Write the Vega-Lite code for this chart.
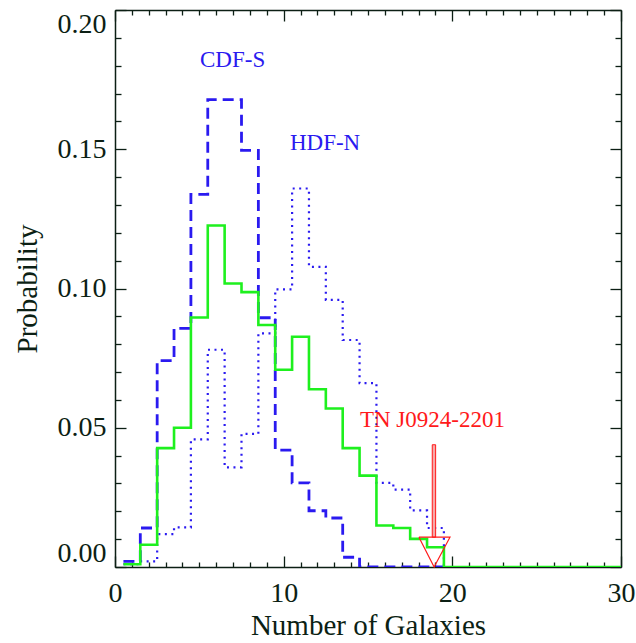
{
  "$schema": "https://vega.github.io/schema/vega-lite/v6.json",
  "width": 506,
  "height": 557,
  "autosize": {"type": "none"},
  "padding": {"left": 115, "top": 10, "right": 15, "bottom": 76},
  "background": "white",
  "config": {
    "view": {"stroke": null},
    "font": "Liberation Serif",
    "axis": {
      "domainColor": "#0c1f14",
      "tickColor": "#0c1f14",
      "labelColor": "#0c1f14",
      "titleColor": "#0c1f14",
      "grid": false,
      "labelFont": "Liberation Serif",
      "titleFont": "Liberation Serif",
      "labelFontSize": 28,
      "titleFontSize": 29,
      "titleFontWeight": "normal",
      "domainWidth": 1.5,
      "tickWidth": 1.3,
      "labelOverlap": false,
      "tickCount": 100
    }
  },
  "datasets": {
    "hist": [
      {"s": "HDF-N", "x": 0.5, "p": 0.001},
      {"s": "HDF-N", "x": 1.5, "p": 0.002},
      {"s": "HDF-N", "x": 2.5, "p": 0.0118},
      {"s": "HDF-N", "x": 3.5, "p": 0.0142},
      {"s": "HDF-N", "x": 4.5, "p": 0.0458},
      {"s": "HDF-N", "x": 5.5, "p": 0.078},
      {"s": "HDF-N", "x": 6.5, "p": 0.0358},
      {"s": "HDF-N", "x": 7.5, "p": 0.0478},
      {"s": "HDF-N", "x": 8.5, "p": 0.0839},
      {"s": "HDF-N", "x": 9.5, "p": 0.0997},
      {"s": "HDF-N", "x": 10.5, "p": 0.1359},
      {"s": "HDF-N", "x": 11.5, "p": 0.1078},
      {"s": "HDF-N", "x": 12.5, "p": 0.0959},
      {"s": "HDF-N", "x": 13.5, "p": 0.0815},
      {"s": "HDF-N", "x": 14.5, "p": 0.066},
      {"s": "HDF-N", "x": 15.5, "p": 0.0302},
      {"s": "HDF-N", "x": 16.5, "p": 0.0278},
      {"s": "HDF-N", "x": 17.5, "p": 0.0203},
      {"s": "HDF-N", "x": 18.5, "p": 0.014},
      {"s": "HDF-N", "x": 19.5, "p": 0},
      {"s": "HDF-N", "x": 20, "p": 0},
      {"s": "CDF-S", "x": 0.5, "p": 0.002},
      {"s": "CDF-S", "x": 1.5, "p": 0.014},
      {"s": "CDF-S", "x": 2.5, "p": 0.0741},
      {"s": "CDF-S", "x": 3.5, "p": 0.0857},
      {"s": "CDF-S", "x": 4.5, "p": 0.1338},
      {"s": "CDF-S", "x": 5.5, "p": 0.1678},
      {"s": "CDF-S", "x": 6.5, "p": 0.1678},
      {"s": "CDF-S", "x": 7.5, "p": 0.1496},
      {"s": "CDF-S", "x": 8.5, "p": 0.0895},
      {"s": "CDF-S", "x": 9.5, "p": 0.042},
      {"s": "CDF-S", "x": 10.5, "p": 0.0302},
      {"s": "CDF-S", "x": 11.5, "p": 0.0202},
      {"s": "CDF-S", "x": 12.5, "p": 0.0176},
      {"s": "CDF-S", "x": 13.5, "p": 0.0035},
      {"s": "CDF-S", "x": 14.5, "p": 0},
      {"s": "CDF-S", "x": 19.5, "p": 0},
      {"s": "TN", "x": 0.5, "p": 0.001},
      {"s": "TN", "x": 1.5, "p": 0.008},
      {"s": "TN", "x": 2.5, "p": 0.0427},
      {"s": "TN", "x": 3.5, "p": 0.05},
      {"s": "TN", "x": 4.5, "p": 0.0896},
      {"s": "TN", "x": 5.5, "p": 0.1226},
      {"s": "TN", "x": 6.5, "p": 0.1018},
      {"s": "TN", "x": 7.5, "p": 0.0987},
      {"s": "TN", "x": 8.5, "p": 0.0869},
      {"s": "TN", "x": 9.5, "p": 0.0708},
      {"s": "TN", "x": 10.5, "p": 0.0827},
      {"s": "TN", "x": 11.5, "p": 0.0638},
      {"s": "TN", "x": 12.5, "p": 0.0569},
      {"s": "TN", "x": 13.5, "p": 0.0427},
      {"s": "TN", "x": 14.5, "p": 0.0328},
      {"s": "TN", "x": 15.5, "p": 0.0149},
      {"s": "TN", "x": 16.5, "p": 0.014},
      {"s": "TN", "x": 17.5, "p": 0.0101},
      {"s": "TN", "x": 18.5, "p": 0.0071},
      {"s": "TN", "x": 19.5, "p": 0},
      {"s": "TN", "x": 30, "p": 0}
    ],
    "shaft": [{"x": 18.81, "x2": 19.01, "p": 0.0107, "p2": 0.0439}],
    "head": [
      {"o": 1, "x": 18.02, "p": 0.0107},
      {"o": 2, "x": 18.92, "p": 0},
      {"o": 3, "x": 19.86, "p": 0.0107},
      {"o": 4, "x": 18.02, "p": 0.0107}
    ],
    "labels": [
      {"t": "CDF-S", "g": "field", "x": 5.04, "p": 0.1797},
      {"t": "HDF-N", "g": "field", "x": 10.37, "p": 0.1496},
      {"t": "TN J0924-2201", "g": "target", "x": 14.52, "p": 0.0501}
    ]
  },
  "layer": [
    {
      "layer": [
        {
          "data": {"name": "hist"},
          "transform": [{"filter": "datum.s === 'HDF-N'"}],
          "mark": {"type": "line", "interpolate": "step-after", "color": "#2a1af0", "strokeWidth": 2.2, "strokeDash": [2, 4.5], "clip": true},
          "encoding": {
            "x": {
              "field": "x", "type": "quantitative",
              "scale": {"domain": [0, 30], "nice": false, "zero": false},
              "axis": {
                "orient": "bottom",
                "title": "Number of Galaxies",
                "values": [0,1,2,3,4,5,6,7,8,9,10,11,12,13,14,15,16,17,18,19,20,21,22,23,24,25,26,27,28,29,30],
                "tickCount": 100,
                "labelExpr": "datum.value % 10 === 0 ? format(datum.value, 'd') : ''",
                "tickSize": {"condition": {"test": "datum.value % 10 === 0", "value": -11}, "value": -5},
                "labelPadding": 23,
                "titlePadding": -2,
                "labelFlush": false,
                "labelOverlap": false,
                "labelBound": false
              }
            },
            "y": {
              "field": "p", "type": "quantitative",
              "scale": {"domain": [0, 0.2], "nice": false},
              "axis": {
                "orient": "left",
                "title": "Probability",
                "values": [0,0.01,0.02,0.03,0.04,0.05,0.06,0.07,0.08,0.09,0.1,0.11,0.12,0.13,0.14,0.15,0.16,0.17,0.18,0.19,0.2],
                "tickCount": 100,
                "labelExpr": "abs(datum.value*20 - round(datum.value*20)) < 1e-6 ? format(datum.value, '.2f') : ''",
                "tickSize": {"condition": {"test": "abs(datum.value*20 - round(datum.value*20)) < 1e-6", "value": -11}, "value": -6},
                "labelPadding": 20,
                "titlePadding": 15,
                "labelFlush": true,
                "labelOverlap": false,
                "labelBound": false
              }
            }
          }
        },
        {
          "data": {"name": "hist"},
          "transform": [{"filter": "datum.s === 'CDF-S'"}],
          "mark": {"type": "line", "interpolate": "step-after", "color": "#2a1af0", "strokeWidth": 2.8, "strokeDash": [11, 6], "clip": true},
          "encoding": {
            "x": {"field": "x", "type": "quantitative"},
            "y": {"field": "p", "type": "quantitative"}
          }
        },
        {
          "data": {"name": "hist"},
          "transform": [{"filter": "datum.s === 'TN'"}],
          "mark": {"type": "line", "interpolate": "step-after", "color": "#1ef01e", "strokeWidth": 2.6, "clip": true},
          "encoding": {
            "x": {"field": "x", "type": "quantitative"},
            "y": {"field": "p", "type": "quantitative"}
          }
        },
        {
          "data": {"name": "shaft"},
          "mark": {"type": "rect", "fill": "#f6a8a8", "stroke": "#ff1a1a", "strokeWidth": 1},
          "encoding": {
            "x": {"field": "x", "type": "quantitative"},
            "x2": {"field": "x2"},
            "y": {"field": "p", "type": "quantitative"},
            "y2": {"field": "p2"}
          }
        },
        {
          "data": {"name": "head"},
          "mark": {"type": "line", "color": "#ff1a1a", "strokeWidth": 1.2},
          "encoding": {
            "x": {"field": "x", "type": "quantitative"},
            "y": {"field": "p", "type": "quantitative"},
            "order": {"field": "o", "type": "quantitative"}
          }
        }
      ]
    },
    {
      "data": {"name": "labels"},
      "mark": {"type": "text", "align": "left", "baseline": "alphabetic", "font": "Liberation Serif", "fontSize": 23},
      "encoding": {
        "x": {
          "field": "x", "type": "quantitative",
          "axis": {
            "orient": "top", "title": null, "labels": false,
            "values": [0,1,2,3,4,5,6,7,8,9,10,11,12,13,14,15,16,17,18,19,20,21,22,23,24,25,26,27,28,29,30],
            "tickCount": 100,
            "tickSize": {"condition": {"test": "datum.value % 10 === 0", "value": -11}, "value": -5}
          }
        },
        "y": {
          "field": "p", "type": "quantitative",
          "axis": {
            "orient": "right", "title": null, "labels": false,
            "values": [0,0.01,0.02,0.03,0.04,0.05,0.06,0.07,0.08,0.09,0.1,0.11,0.12,0.13,0.14,0.15,0.16,0.17,0.18,0.19,0.2],
            "tickCount": 100,
            "tickSize": {"condition": {"test": "abs(datum.value*20 - round(datum.value*20)) < 1e-6", "value": -11}, "value": -6}
          }
        },
        "text": {"field": "t"},
        "color": {"field": "g", "type": "nominal", "scale": {"domain": ["field", "target"], "range": ["#2a1af0", "#ff1a1a"]}, "legend": null}
      }
    }
  ],
  "resolve": {"axis": {"x": "independent", "y": "independent"}}
}
